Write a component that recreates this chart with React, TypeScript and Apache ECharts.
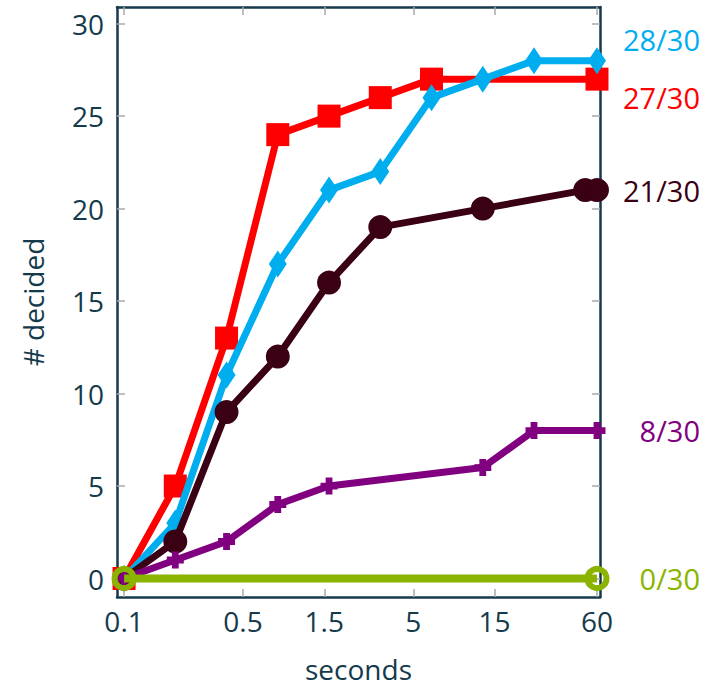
import React, { useEffect, useRef } from "react";
import * as echarts from "echarts";

// Time budgets (seconds) and number of instances decided per solver
const redTimes = [0.1, 0.2, 0.4, 0.8, 1.6, 3.2, 6.4, 60];
const redDecided = [0, 5, 13, 24, 25, 26, 27, 27];

const cyanTimes = [0.1, 0.2, 0.4, 0.8, 1.6, 3.2, 6.4, 12.8, 25.6, 60];
const cyanDecided = [0, 3, 11, 17, 21, 22, 26, 27, 28, 28];

const darkTimes = [0.1, 0.2, 0.4, 0.8, 1.6, 3.2, 12.8, 51.2, 60];
const darkDecided = [0, 2, 9, 12, 16, 19, 20, 21, 21];

const purpleTimes = [0.1, 0.2, 0.4, 0.8, 1.6, 12.8, 25.6, 60];
const purpleDecided = [0, 1, 2, 4, 5, 6, 8, 8];

const greenTimes = [0.1, 60];
const greenDecided = [0, 0];

const totalInstances = 30;

const xTicks = [0.1, 0.5, 1.5, 5, 15, 60];
const yTicks = [0, 5, 10, 15, 20, 25, 30];

const TEXT = "#143a4c";
const FONT = "Open Sans";

// thick plus-shaped marker
const PLUS = "path://M3,0H7V3H10V7H7V10H3V7H0V3H3Z";

function pairs(xs: number[], ys: number[], color: string, dy: number) {
  return xs.map((x, i) => {
    const item: any = { value: [x, ys[i]] };
    if (i === xs.length - 1) {
      item.label = {
        show: true,
        position: "inside",
        align: "right",
        verticalAlign: "middle",
        offset: [103, dy],
        formatter: `${ys[i]}/${totalInstances}`,
        color,
        fontFamily: FONT,
        fontSize: 29,
      };
    }
    return item;
  });
}

export default function App() {
  const ref = useRef<HTMLDivElement>(null);

  useEffect(() => {
    if (!ref.current) return;
    const chart = echarts.init(ref.current, null, { renderer: "svg" });

    const tickStyle = { color: "#a8a8a8", width: 1.5 };
    const frame = { show: true, onZero: false, lineStyle: { color: TEXT, width: 2.5 } };
    const xMin = 0.0909;
    const xMax = 62.5;

    chart.setOption({
      animation: false,
      backgroundColor: "#ffffff",
      grid: { left: 117, right: 118, top: 7, bottom: 90 },
      xAxis: [
        {
          type: "log",
          logBase: 10,
          min: xMin,
          max: xMax,
          position: "bottom",
          axisLine: frame,
          axisTick: { show: true, inside: true, length: 8, lineStyle: tickStyle, customValues: xTicks },
          axisLabel: {
            customValues: xTicks,
            formatter: (v: number) => String(v),
            color: TEXT,
            fontFamily: FONT,
            fontSize: 28,
            margin: 10,
          },
          splitLine: { show: false },
          minorTick: { show: false },
          name: "seconds",
          nameLocation: "middle",
          nameGap: 58,
          nameTextStyle: { color: TEXT, fontFamily: FONT, fontSize: 28 },
        },
        {
          type: "log",
          logBase: 10,
          min: xMin,
          max: xMax,
          position: "top",
          axisLine: frame,
          axisTick: { show: true, inside: true, length: 8, lineStyle: tickStyle, customValues: xTicks },
          axisLabel: { show: false, customValues: xTicks },
          splitLine: { show: false },
        },
      ],
      yAxis: [
        {
          type: "value",
          min: -1,
          max: 30.9,
          position: "left",
          axisLine: frame,
          axisTick: { show: true, inside: true, length: 8, lineStyle: tickStyle, customValues: yTicks },
          axisLabel: {
            customValues: yTicks,
            color: TEXT,
            fontFamily: FONT,
            fontSize: 28,
            margin: 13,
          },
          splitLine: { show: false },
          name: "# decided",
          nameLocation: "middle",
          nameGap: 70,
          nameTextStyle: { color: TEXT, fontFamily: FONT, fontSize: 28 },
        },
        {
          type: "value",
          min: -1,
          max: 30.9,
          position: "right",
          axisLine: frame,
          axisTick: { show: true, inside: true, length: 8, lineStyle: tickStyle, customValues: yTicks },
          axisLabel: { show: false, customValues: yTicks },
          splitLine: { show: false },
        },
      ],
      series: [
        {
          type: "line",
          name: "red",
          data: pairs(redTimes, redDecided, "#ff0000", 18),
          symbol: "rect",
          symbolSize: 23,
          lineStyle: { color: "#ff0000", width: 7 },
          itemStyle: { color: "#ff0000" },
          z: 2,
        },
        {
          type: "line",
          name: "cyan",
          data: pairs(cyanTimes, cyanDecided, "#00aeef", -21),
          symbol: "diamond",
          symbolSize: [18, 27],
          lineStyle: { color: "#00aeef", width: 7 },
          itemStyle: { color: "#00aeef" },
          z: 3,
        },
        {
          type: "line",
          name: "dark",
          data: pairs(darkTimes, darkDecided, "#3a0014", 0),
          symbol: "circle",
          symbolSize: 24,
          lineStyle: { color: "#3a0014", width: 7 },
          itemStyle: { color: "#3a0014" },
          z: 4,
        },
        {
          type: "line",
          name: "purple",
          data: pairs(purpleTimes, purpleDecided, "#800080", 0),
          symbol: PLUS,
          symbolSize: 17,
          lineStyle: { color: "#800080", width: 7 },
          itemStyle: { color: "#800080" },
          z: 5,
        },
        {
          type: "line",
          name: "green",
          data: pairs(greenTimes, greenDecided, "#8ab400", 0),
          symbol: "circle",
          symbolSize: 19,
          showAllSymbol: true,
          lineStyle: { color: "#8ab400", width: 8 },
          itemStyle: { color: "rgba(0,0,0,0)", borderColor: "#8ab400", borderWidth: 6 },
          z: 6,
        },
      ],
    });

    return () => chart.dispose();
  }, []);

  return <div ref={ref} style={{ width: 718, height: 688, position: "absolute", left: 0, top: 0 }} />;
}
